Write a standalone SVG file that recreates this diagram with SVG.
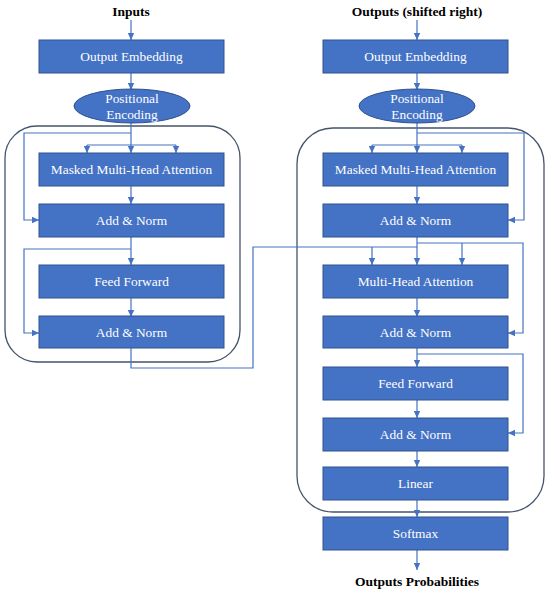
<svg xmlns="http://www.w3.org/2000/svg" width="550" height="594" viewBox="0 0 550 594">
<style>
.box{fill:#4472C4;stroke:#2F528F;stroke-width:1}
.t{font-family:"Liberation Serif","Times New Roman",serif;font-size:13.4px;fill:#fff;text-anchor:middle}
.h{font-family:"Liberation Serif","Times New Roman",serif;font-size:13.5px;font-weight:bold;fill:#000;text-anchor:middle}
.ln{fill:none;stroke:#4472C4;stroke-width:1.2}
.ar{fill:none;stroke:#4472C4;stroke-width:1.2;marker-end:url(#ah)}
.frame{fill:none;stroke:#44546A;stroke-width:1.3}
</style>
<defs>
<marker id="ah" markerWidth="8" markerHeight="8" refX="7" refY="4" orient="auto" markerUnits="userSpaceOnUse">
<path d="M0,0.8 L7,4 L0,7.2 Z" fill="#4472C4"/>
</marker>
</defs>
<rect width="550" height="594" fill="#fff"/>

<g id="frames">
<rect class="frame" x="5" y="126" width="235" height="236" rx="32"/>
<rect class="frame" x="297" y="128" width="247" height="384" rx="36"/>
</g>

<g id="labels">
<text class="h" x="131" y="16">Inputs</text>
<text class="h" x="417" y="16">Outputs (shifted right)</text>
<text class="h" x="417" y="586">Outputs Probabilities</text>
</g>

<g id="connectors">
<!-- encoder -->
<path class="ar" d="M131,20 V40"/>
<path class="ar" d="M131,73 V90"/>
<path class="ln" d="M131,123 V145"/>
<path class="ar" d="M131,133 H24 V220 H39"/>
<path class="ln" d="M87,145 H176"/>
<path class="ar" d="M87,145 V153"/>
<path class="ar" d="M131,145 V153"/>
<path class="ar" d="M176,145 V153"/>
<path class="ar" d="M131,186 V204"/>
<path class="ar" d="M131,237 V265"/>
<path class="ar" d="M131,249 H24 V333 H39"/>
<path class="ar" d="M131,298 V317"/>
<path class="ln" d="M131,348 V368 H253 V247 H417"/>
<path class="ar" d="M372,247 V265"/>
<!-- decoder -->
<path class="ar" d="M417,20 V40"/>
<path class="ar" d="M417,73 V90"/>
<path class="ln" d="M417,123 V145"/>
<path class="ar" d="M417,133 H524 V220 H508"/>
<path class="ln" d="M372,145 H462"/>
<path class="ar" d="M372,145 V153"/>
<path class="ar" d="M417,145 V153"/>
<path class="ar" d="M462,145 V153"/>
<path class="ar" d="M417,186 V204"/>
<path class="ar" d="M417,237 V265"/>
<path class="ar" d="M417,243 H523 V333 H508"/>
<path class="ar" d="M462,243 V265"/>
<path class="ar" d="M417,298 V317"/>
<path class="ar" d="M417,348 V367"/>
<path class="ar" d="M417,354 H523 V433 H508"/>
<path class="ar" d="M417,400 V418"/>
<path class="ar" d="M417,451 V467"/>
<path class="ar" d="M417,500 V517"/>
<path class="ar" d="M417,550 V570"/>
</g>

<g id="enc-embed"><rect class="box" x="39" y="40" width="185" height="33"/><text class="t" x="131.5" y="61">Output Embedding</text></g>
<g id="enc-pos"><ellipse class="box" cx="132" cy="106" rx="58" ry="17"/><text class="t" x="132" y="103">Positional</text><text class="t" x="132" y="119">Encoding</text></g>
<g id="enc-mmha"><rect class="box" x="39" y="153" width="185" height="33"/><text class="t" x="131.5" y="174">Masked Multi-Head Attention</text></g>
<g id="enc-addnorm1"><rect class="box" x="39" y="204" width="185" height="33"/><text class="t" x="131.5" y="225">Add &amp; Norm</text></g>
<g id="enc-ff"><rect class="box" x="39" y="265" width="185" height="33"/><text class="t" x="131.5" y="286">Feed Forward</text></g>
<g id="enc-addnorm2"><rect class="box" x="39" y="316" width="185" height="32"/><text class="t" x="131.5" y="337">Add &amp; Norm</text></g>

<g id="dec-embed"><rect class="box" x="323" y="40" width="185" height="33"/><text class="t" x="415.5" y="61">Output Embedding</text></g>
<g id="dec-pos"><ellipse class="box" cx="417" cy="106" rx="58" ry="17"/><text class="t" x="417" y="103">Positional</text><text class="t" x="417" y="119">Encoding</text></g>
<g id="dec-mmha"><rect class="box" x="323" y="153" width="185" height="33"/><text class="t" x="415.5" y="174">Masked Multi-Head Attention</text></g>
<g id="dec-addnorm1"><rect class="box" x="323" y="204" width="185" height="33"/><text class="t" x="415.5" y="225">Add &amp; Norm</text></g>
<g id="dec-mha"><rect class="box" x="323" y="265" width="185" height="33"/><text class="t" x="415.5" y="286">Multi-Head Attention</text></g>
<g id="dec-addnorm2"><rect class="box" x="323" y="316" width="185" height="32"/><text class="t" x="415.5" y="337">Add &amp; Norm</text></g>
<g id="dec-ff"><rect class="box" x="323" y="367" width="185" height="33"/><text class="t" x="415.5" y="388">Feed Forward</text></g>
<g id="dec-addnorm3"><rect class="box" x="323" y="418" width="185" height="33"/><text class="t" x="415.5" y="439">Add &amp; Norm</text></g>
<g id="dec-linear"><rect class="box" x="323" y="467" width="185" height="33"/><text class="t" x="415.5" y="488">Linear</text></g>
<g id="dec-softmax"><rect class="box" x="323" y="517" width="185" height="33"/><text class="t" x="415.5" y="538">Softmax</text></g>
</svg>
